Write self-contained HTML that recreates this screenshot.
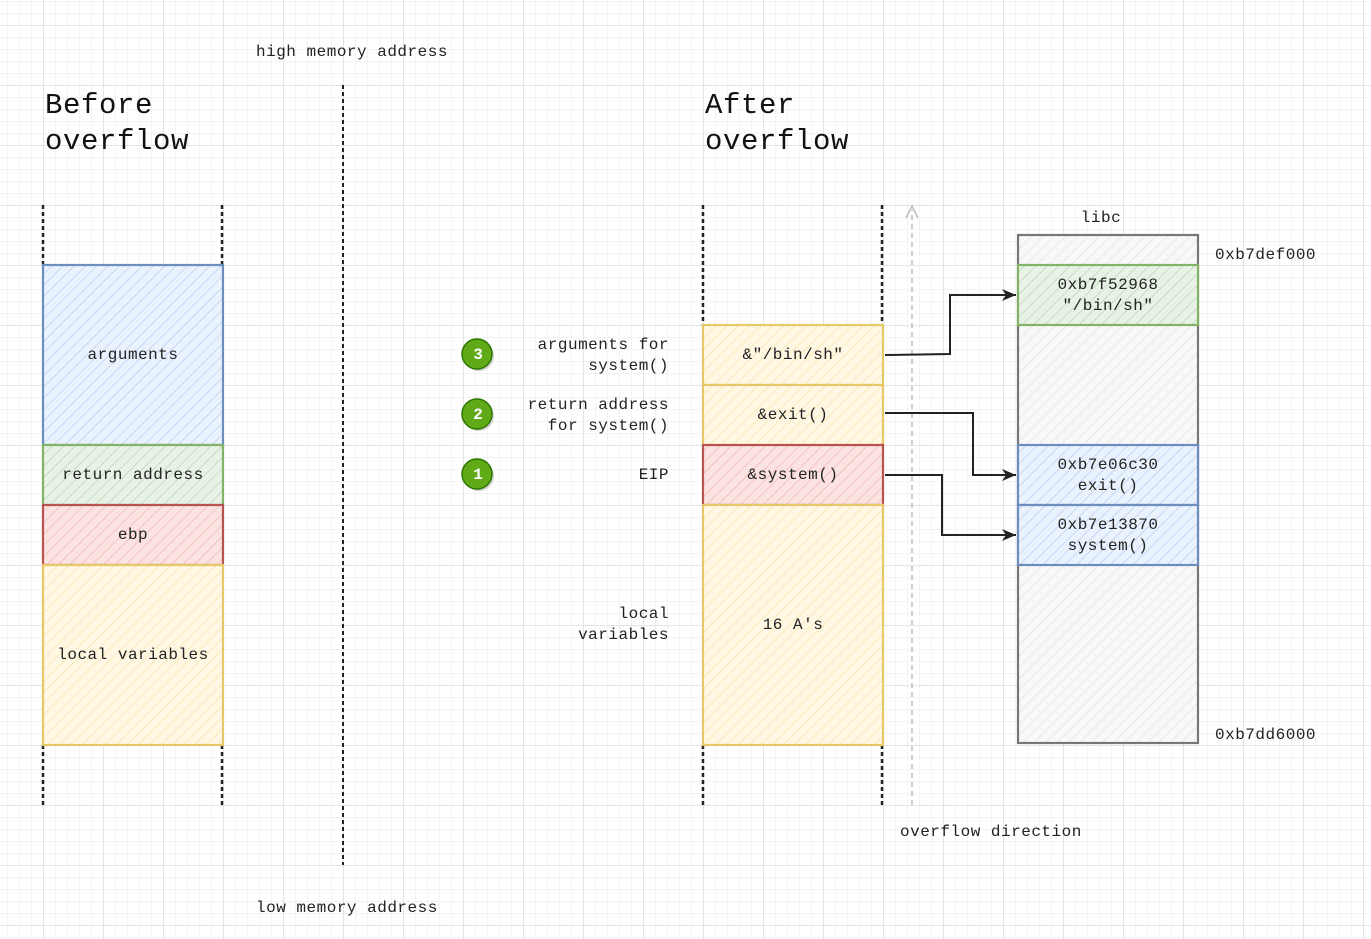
<!DOCTYPE html>
<html><head><meta charset="utf-8"><style>
html,body{margin:0;padding:0}
body{width:1371px;height:939px;overflow:hidden;background:#fff;
background-image:
linear-gradient(to right,#e4e4e4 1px,transparent 1px),
linear-gradient(to bottom,#e4e4e4 1px,transparent 1px),
linear-gradient(to right,#f3f3f3 1px,transparent 1px),
linear-gradient(to bottom,#f3f3f3 1px,transparent 1px);
background-size:60px 60px,60px 60px,12px 12px,12px 12px;
background-position:43px 25px,43px 25px,43px 25px,43px 25px;}
svg{position:absolute;left:0;top:0}
text{font-family:"Liberation Mono",monospace;font-size:16px;fill:#222;letter-spacing:0.5px}
.t{font-size:29px;letter-spacing:0.6px;fill:#111}
</style></head><body>
<svg width="1371" height="939" viewBox="0 0 1371 939">
<defs>
<pattern id="hb" width="8" height="8" patternUnits="userSpaceOnUse" patternTransform="rotate(45)"><rect width="8" height="8" fill="#eaf2fd"/><line x1="0" y1="0" x2="0" y2="8" stroke="#c4d8f5" stroke-width="2"/></pattern>
<pattern id="hg" width="8" height="8" patternUnits="userSpaceOnUse" patternTransform="rotate(45)"><rect width="8" height="8" fill="#e8f2e6"/><line x1="0" y1="0" x2="0" y2="8" stroke="#c5dec0" stroke-width="2"/></pattern>
<pattern id="hr" width="8" height="8" patternUnits="userSpaceOnUse" patternTransform="rotate(45)"><rect width="8" height="8" fill="#fbe3e2"/><line x1="0" y1="0" x2="0" y2="8" stroke="#f3c3c1" stroke-width="2"/></pattern>
<pattern id="hy" width="8" height="8" patternUnits="userSpaceOnUse" patternTransform="rotate(45)"><rect width="8" height="8" fill="#fff8e4"/><line x1="0" y1="0" x2="0" y2="8" stroke="#fbe8b8" stroke-width="2"/></pattern>
<pattern id="hx" width="8" height="8" patternUnits="userSpaceOnUse" patternTransform="rotate(45)"><rect width="8" height="8" fill="#f8f8f8"/><line x1="0" y1="0" x2="0" y2="8" stroke="#e8e8e8" stroke-width="2"/></pattern>
<marker id="ar" markerWidth="16" markerHeight="14" refX="14" refY="7" orient="auto" markerUnits="userSpaceOnUse"><path d="M0,1 L14,7 L0,13 L4,7 Z" fill="#222"/></marker>
</defs>
<text x="256" y="56">high memory address</text>
<text x="256" y="912">low memory address</text>
<text class="t" x="45" y="113">Before</text>
<text class="t" x="45" y="149">overflow</text>
<text class="t" x="705" y="113">After</text>
<text class="t" x="705" y="149">overflow</text>
<g stroke="#222" stroke-width="2.5" stroke-dasharray="4,3" fill="none">
<line x1="43" y1="205" x2="43" y2="265"/><line x1="222" y1="205" x2="222" y2="265"/>
<line x1="43" y1="745" x2="43" y2="805"/><line x1="222" y1="745" x2="222" y2="805"/>
<line x1="703" y1="205" x2="703" y2="325"/><line x1="882" y1="205" x2="882" y2="325"/>
<line x1="703" y1="745" x2="703" y2="805"/><line x1="882" y1="745" x2="882" y2="805"/>
<line x1="343" y1="85" x2="343" y2="865" stroke-width="2"/>
</g>
<g stroke-width="2.2">
<rect x="43" y="265" width="180" height="180" fill="url(#hb)" stroke="#6c8ebf"/>
<rect x="43" y="445" width="180" height="60" fill="url(#hg)" stroke="#82b366"/>
<rect x="43" y="505" width="180" height="60" fill="url(#hr)" stroke="#b85450"/>
<rect x="43" y="565" width="180" height="180" fill="url(#hy)" stroke="#e6c86a"/>
<rect x="703" y="325" width="180" height="60" fill="url(#hy)" stroke="#e6c86a"/>
<rect x="703" y="385" width="180" height="60" fill="url(#hy)" stroke="#e6c86a"/>
<rect x="703" y="445" width="180" height="60" fill="url(#hr)" stroke="#b85450"/>
<rect x="703" y="505" width="180" height="240" fill="url(#hy)" stroke="#e6c86a"/>
<rect x="1018" y="235" width="180" height="508" fill="url(#hx)" stroke="#777"/>
<rect x="1018" y="265" width="180" height="60" fill="url(#hg)" stroke="#82b366"/>
<rect x="1018" y="445" width="180" height="60" fill="url(#hb)" stroke="#6c8ebf"/>
<rect x="1018" y="505" width="180" height="60" fill="url(#hb)" stroke="#6c8ebf"/>
</g>
<g text-anchor="middle">
<text x="133" y="359">arguments</text>
<text x="133" y="479">return address</text>
<text x="133" y="539">ebp</text>
<text x="133" y="659">local variables</text>
<text x="793" y="359">&amp;"/bin/sh"</text>
<text x="793" y="419">&amp;exit()</text>
<text x="793" y="479">&amp;system()</text>
<text x="793" y="629">16 A's</text>
<text x="1108" y="289">0xb7f52968</text>
<text x="1108" y="310">"/bin/sh"</text>
<text x="1108" y="469">0xb7e06c30</text>
<text x="1108" y="490">exit()</text>
<text x="1108" y="529">0xb7e13870</text>
<text x="1108" y="550">system()</text>
<text x="1101" y="222">libc</text>
</g>
<g text-anchor="end">
<text x="669" y="349">arguments for</text>
<text x="669" y="370">system()</text>
<text x="669" y="409">return address</text>
<text x="669" y="430">for system()</text>
<text x="669" y="479">EIP</text>
<text x="669" y="618">local</text>
<text x="669" y="639">variables</text>
</g>
<text x="1215" y="259">0xb7def000</text>
<text x="1215" y="739">0xb7dd6000</text>
<text x="900" y="836">overflow direction</text>
<line x1="912" y1="805" x2="912" y2="210" stroke="#bbb" stroke-width="1.5" stroke-dasharray="5,4"/>
<path d="M906,218 L912,206 L918,218" fill="none" stroke="#bbb" stroke-width="1.5"/>
<g stroke="#222" stroke-width="2" fill="none" marker-end="url(#ar)">
<path d="M885,355 L950,354 L950,295 L1016,295"/>
<path d="M885,413 L973,413 L973,475 L1016,475"/>
<path d="M885,475 L942,475 L942,535 L1016,535"/>
</g>
<g>
<circle cx="479" cy="356" r="15" fill="#aaa" opacity="0.5"/>
<circle cx="477" cy="354" r="15" fill="#60a917" stroke="#2d7600" stroke-width="1.5"/>
<circle cx="479" cy="416" r="15" fill="#aaa" opacity="0.5"/>
<circle cx="477" cy="414" r="15" fill="#60a917" stroke="#2d7600" stroke-width="1.5"/>
<circle cx="479" cy="476" r="15" fill="#aaa" opacity="0.5"/>
<circle cx="477" cy="474" r="15" fill="#60a917" stroke="#2d7600" stroke-width="1.5"/>
<g text-anchor="middle" style="font-weight:bold">
<text x="478" y="359" style="fill:#fff;letter-spacing:0">3</text>
<text x="478" y="419" style="fill:#fff;letter-spacing:0">2</text>
<text x="478" y="479" style="fill:#fff;letter-spacing:0">1</text>
</g>
</g>
</svg>
</body></html>
